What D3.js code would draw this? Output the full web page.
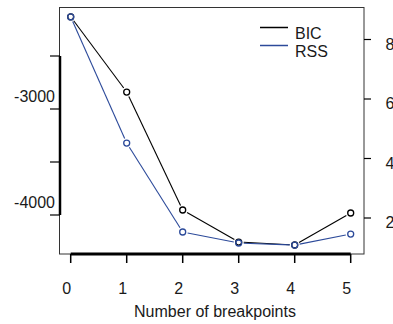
<!DOCTYPE html>
<html>
<head>
<meta charset="utf-8">
<script src="https://cdn.jsdelivr.net/npm/d3@7"></script>
<style>
  body { margin: 0; background: #fff; }
  text { font-family: "Liberation Sans", Arial, sans-serif; font-size: 16px; fill: #1a1a1a; }
</style>
</head>
<body>
<div id="chart"></div>
<script>
const breakpoints = [0, 1, 2, 3, 4, 5];
const bicValues = [-2130, -2840, -3953, -4255, -4283, -3981];
const rssValues = [8.76, 4.52, 1.53, 1.16, 1.09, 1.46];
const leftTicks = [-2500, -3000, -3500, -4000];
const leftLabels = [-3000, -4000];
const rightTicks = [2, 4, 6, 8];
const seriesNames = ['BIC', 'RSS'];

const W = 393, H = 324;
const blue = '#2c4a9a';
const box = { left: 59.5, top: 7.5, right: 364, bottom: 254 };

const svg = d3.select('#chart').append('svg')
    .attr('width', W)
    .attr('height', H);

const x = d3.scaleLinear().domain([0, 5]).range([70.7, 350.7]);
const yL = d3.scaleLinear().domain([-4000, -3000]).range([215, 109]);
const yR = d3.scaleLinear().domain([2, 8]).range([218, 39.5]);

// plot frame
svg.append('rect')
    .attr('x', box.left).attr('y', box.top)
    .attr('width', box.right - box.left).attr('height', box.bottom - box.top)
    .attr('fill', 'none').attr('stroke', '#333').attr('stroke-width', 1);

// bottom axis
svg.append('line')
    .attr('x1', x(0)).attr('x2', x(5))
    .attr('y1', box.bottom).attr('y2', box.bottom)
    .attr('stroke', '#000').attr('stroke-width', 3);
svg.selectAll('.xtick').data(breakpoints).enter().append('line')
    .attr('x1', d => x(d)).attr('x2', d => x(d))
    .attr('y1', box.bottom).attr('y2', 263)
    .attr('stroke', '#000').attr('stroke-width', 1.5);
svg.selectAll('.xlab').data(breakpoints).enter().append('text')
    .attr('x', d => x(d) - 4).attr('y', 294)
    .attr('text-anchor', 'middle')
    .text(d => d);
svg.append('text')
    .attr('x', 215).attr('y', 317)
    .attr('text-anchor', 'middle')
    .text('Number of breakpoints');

// left axis
svg.append('line')
    .attr('x1', 60).attr('x2', 60)
    .attr('y1', yL(-2500)).attr('y2', yL(-4000))
    .attr('stroke', '#000').attr('stroke-width', 2.5);
svg.selectAll('.ltick').data(leftTicks).enter().append('line')
    .attr('x1', 50).attr('x2', 60)
    .attr('y1', d => yL(d)).attr('y2', d => yL(d))
    .attr('stroke', '#000').attr('stroke-width', 1.2);
svg.selectAll('.llab').data(leftLabels).enter().append('text')
    .attr('x', 55).attr('y', d => yL(d) - 7)
    .attr('text-anchor', 'end')
    .text(d => d);

// right axis
svg.selectAll('.rtick').data(rightTicks).enter().append('line')
    .attr('x1', box.right).attr('x2', 371)
    .attr('y1', d => yR(d)).attr('y2', d => yR(d))
    .attr('stroke', '#000').attr('stroke-width', 1.2);
svg.selectAll('.rlab').data(rightTicks).enter().append('text')
    .attr('x', 385.5).attr('y', d => yR(d) + 10)
    .text(d => d);

// lines with gaps round the points (type = "b")
function drawSeries(values, yScale, colour) {
    const pts = breakpoints.map((b, i) => [x(b), yScale(values[i])]);
    const gap = 5;
    const segs = d3.pairs(pts).map(([a, b]) => {
        const dx = b[0] - a[0], dy = b[1] - a[1];
        const len = Math.hypot(dx, dy);
        if (len <= 2 * gap) return null;
        const ux = dx / len, uy = dy / len;
        return [a[0] + ux * gap, a[1] + uy * gap, b[0] - ux * gap, b[1] - uy * gap];
    }).filter(s => s);
    svg.append('g').selectAll('line').data(segs).enter().append('line')
        .attr('x1', s => s[0]).attr('y1', s => s[1])
        .attr('x2', s => s[2]).attr('y2', s => s[3])
        .attr('stroke', colour).attr('stroke-width', 1.1);
    svg.append('g').selectAll('circle').data(pts).enter().append('circle')
        .attr('cx', p => p[0]).attr('cy', p => p[1]).attr('r', 3)
        .attr('fill', 'none').attr('stroke', colour).attr('stroke-width', 1.3);
}
drawSeries(bicValues, yL, '#000');
drawSeries(rssValues, yR, blue);

// legend
const legend = svg.append('g');
seriesNames.forEach((name, i) => {
    const ly = 27.5 + i * 18;
    legend.append('line')
        .attr('x1', 260).attr('x2', 288)
        .attr('y1', ly).attr('y2', ly)
        .attr('stroke', i === 0 ? '#000' : blue).attr('stroke-width', 1.5);
    legend.append('text')
        .attr('x', 295).attr('y', ly + 11)
        .text(name);
});
</script>
</body>
</html>
